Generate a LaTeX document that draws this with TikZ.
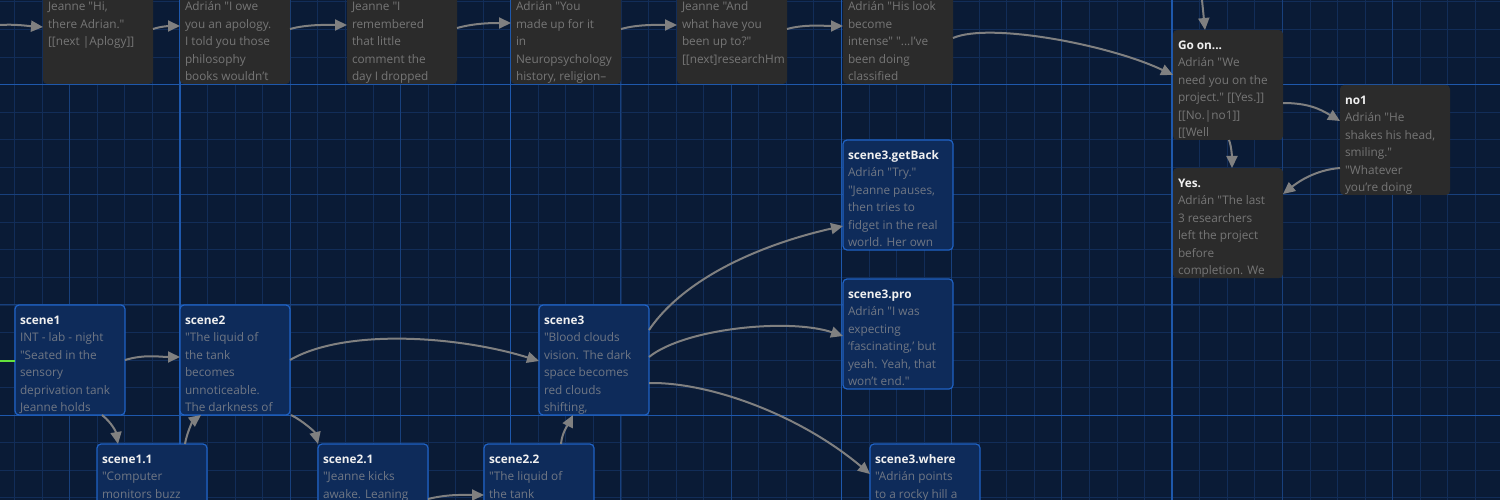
\documentclass[tikz,border=0pt]{standalone}
\usepackage{fontspec}
\setmainfont{Open Sans}[Ligatures=TeXOff]
\usetikzlibrary{arrows.meta,calc}
\definecolor{bg}{RGB}{10,27,54}
\definecolor{gridminor}{RGB}{18,45,88}
\definecolor{gridmedium}{RGB}{24,64,124}
\definecolor{gridmajor}{RGB}{30,88,172}
\definecolor{grayfill}{RGB}{43,43,43}
\definecolor{graytext}{RGB}{118,118,118}
\definecolor{bluefill}{RGB}{14,43,90}
\definecolor{blueborder}{RGB}{31,98,196}
\definecolor{bluetext}{RGB}{112,119,132}
\definecolor{titlecol}{RGB}{240,240,240}
\definecolor{linkgray}{RGB}{128,128,128}
\definecolor{startgreen}{RGB}{100,225,60}
\newcommand{\cardtext}[2]{\parbox[t][96pt][t]{100pt}{\fontsize{11.8}{17.5}\selectfont\raggedright\strut{\color{titlecol}\bfseries #1}\\#2}}
\tikzset{
  card/.style={anchor=north west, inner xsep=5pt, inner ysep=7pt, outer sep=0pt,
    rounded corners=4pt, minimum width=110pt, minimum height=110pt},
  graycard/.style={card, fill=grayfill, text=graytext},
  bluecard/.style={card, fill=bluefill, draw=blueborder, line width=1.2pt, text=bluetext},
  link/.style={draw=linkgray, line width=2pt, -{Triangle[length=12pt,width=11pt]}},
  startlink/.style={draw=startgreen, line width=2pt},
  minorgrid/.style={draw=gridminor, line width=0.8pt},
  mediumgrid/.style={draw=gridmedium, line width=1pt},
  majorgrid/.style={draw=gridmajor, line width=1.3pt}
}
\begin{document}
\begin{tikzpicture}[x=1pt,y=-1pt]
\useasboundingbox (0,0) rectangle (1500,500);
\fill[bg] (0,0) rectangle (1500,500);
% grid
\foreach \i in {-6,...,48} \draw[minorgrid] ({180+\i*27.5583},0) -- ++(0,500);
\foreach \j in {-3,...,15} \draw[minorgrid] (0,{84.5+\j*27.5583}) -- ++(1500,0);
\foreach \i in {-1,...,12} \draw[mediumgrid] ({180+\i*110.233},0) -- ++(0,500);
\foreach \j in {0,...,3} \draw[mediumgrid] (0,{84.5+\j*110.233}) -- ++(1500,0);
\foreach \i in {0,...,4} \draw[majorgrid] ({180+\i*330.7},0) -- ++(0,500);
\foreach \j in {0,1} \draw[majorgrid] (0,{84.5+\j*330.7}) -- ++(1500,0);

% top row
\node[graycard] (A) at (43,-26) {\cardtext{}{Jeanne "Hi,\\there Adrian."\\{[[}next |Aplogy]]}};
\node[graycard] (B) at (180,-26) {\cardtext{}{Adrián "I owe\\you an apology.\\I told you those\\philosophy\\books wouldn’t}};
\node[graycard] (C) at (347,-26) {\cardtext{}{Jeanne "I\\remembered\\that little\\comment the\\day I dropped}};
\node[graycard] (D) at (511,-26) {\cardtext{}{Adrián "You\\made up for it\\in\\Neuropsychology\\history, religion–}};
\node[graycard] (E) at (677,-26) {\cardtext{}{Jeanne "And\\what have you\\been up to?"\\{[[}next]researchHm}};
\node[graycard] (F) at (843,-26) {\cardtext{}{Adrián "His look\\become\\intense" "...I’ve\\been doing\\classified}};

% right group
\node[graycard] (goon) at (1173,30) {\cardtext{Go on...}{Adrián "We\\need you on the\\project." [[Yes.]]\\{[[}No.|no1]]\\{[[}Well}};
\node[graycard] (no1) at (1340,85) {\cardtext{no1}{Adrián "He\\shakes his head,\\smiling."\\"Whatever\\you’re doing}};
\node[graycard] (yes) at (1173,168) {\cardtext{Yes.}{Adrián "The last\\3 researchers\\left the project\\before\\completion. We}};

% blue cards
\node[bluecard] (getback) at (843,140) {\cardtext{scene3.getBack}{Adrián "Try."\\"Jeanne pauses,\\then tries to\\fidget in the real\\world. Her own}};
\node[bluecard] (pro) at (843,279) {\cardtext{scene3.pro}{Adrián "I was\\expecting\\‘fascinating,’ but\\yeah. Yeah, that\\won’t end."}};
\node[bluecard] (s1) at (15,305) {\cardtext{scene1}{INT - lab - night\\"Seated in the\\sensory\\deprivation tank\\Jeanne holds}};
\node[bluecard] (s2) at (180,305) {\cardtext{scene2}{"The liquid of\\the tank\\becomes\\unnoticeable.\\The darkness of}};
\node[bluecard] (s3) at (539,305) {\cardtext{scene3}{"Blood clouds\\vision. The dark\\space becomes\\red clouds\\shifting,}};
\node[bluecard] (s11) at (97,444) {\cardtext{scene1.1}{"Computer\\monitors buzz}};
\node[bluecard] (s21) at (318,444) {\cardtext{scene2.1}{"Jeanne kicks\\awake. Leaning}};
\node[bluecard] (s22) at (484,444) {\cardtext{scene2.2}{"The liquid of\\the tank}};
\node[bluecard] (s3w) at (870,444) {\cardtext{scene3.where}{"Adrián points\\to a rocky hill a}};

% free ends
\coordinate (inA) at (0,25);
\coordinate (topGo) at (1202,0);
\coordinate (startG) at (0,361);

% connectors top row
\draw[link] (inA) .. controls +(15,-1) and +(-15,-1) .. ($(A.north west)+(0,53)$);
\draw[link] ($(A.north east)+(0,55)$) .. controls +(9,-3) and +(-9,0) .. ($(B.north west)+(0,52)$);
\draw[link] ($(B.north east)+(0,55)$) .. controls +(18,-5) and +(-18,0) .. ($(C.north west)+(0,51)$);
\draw[link] ($(C.north east)+(0,54)$) .. controls +(18,-5) and +(-18,0) .. ($(D.north west)+(0,49)$);
\draw[link] ($(D.north east)+(0,55)$) .. controls +(18,-5) and +(-18,0) .. ($(E.north west)+(0,51)$);
\draw[link] ($(E.north east)+(0,55)$) .. controls +(18,-5) and +(-18,0) .. ($(F.north west)+(0,52)$);
\draw[link] ($(F.north east)+(0,64)$) .. controls +(37,-16) and +(-63,-30) .. ($(goon.north west)+(0,45)$);
\draw[link] (topGo) .. controls +(1,10) and +(-1,-10) .. ($(goon.north west)+(32,0)$);
\draw[link] ($(goon.north east)+(0,73)$) .. controls +(25,0) and +(-20,-12) .. ($(no1.north west)+(0,36)$);
\draw[link] ($(goon.south west)+(56,0)$) .. controls +(3,8) and +(0,-8) .. ($(yes.north west)+(59,0)$);
\draw[link] ($(no1.north west)+(0,83)$) .. controls +(-25,2) and +(15,-12) .. ($(yes.north east)+(0,26)$);

% connectors lower part
\draw[startlink] (startG) -- ($(s1.north west)+(0,56)$);
\draw[link] ($(s1.north east)+(0,55)$) .. controls +(20,-6) and +(-20,0) .. ($(s2.north west)+(0,52)$);
\draw[link] ($(s1.south west)+(87,0)$) .. controls +(10,8) and +(-2,-12) .. ($(s11.north west)+(21,0)$);
\draw[link] ($(s11.north west)+(88,0)$) .. controls +(2,-12) and +(-8,6) .. ($(s2.south west)+(21,0)$);
\draw[link] ($(s2.north east)+(0,55)$) .. controls +(55,-32) and +(-80,-25) .. ($(s3.north west)+(0,56)$);
\draw[link] ($(s2.south east)+(1,0)$) .. controls +(12,6) and +(-3,-12) .. (s21.north west);
\draw[link] ($(s21.north east)+(0,55)$) .. controls +(20,-5) and +(-20,0) .. ($(s22.north west)+(0,51)$);
\draw[link] ($(s22.north west)+(77,0)$) .. controls +(1,-12) and +(-4,8) .. ($(s3.south west)+(34,0)$);
\draw[link] ($(s3.north east)+(0,25)$) .. controls +(41,-60) and +(-63,14) .. ($(getback.north west)+(0,86)$);
\draw[link] ($(s3.north east)+(0,52)$) .. controls +(36,-29) and +(-53,-18) .. ($(pro.north west)+(0,57)$);
\draw[link] ($(s3.north east)+(0,78)$) .. controls +(61,-1) and +(-70,-59) .. ($(s3w.north west)+(0,30)$);
\end{tikzpicture}
\end{document}
